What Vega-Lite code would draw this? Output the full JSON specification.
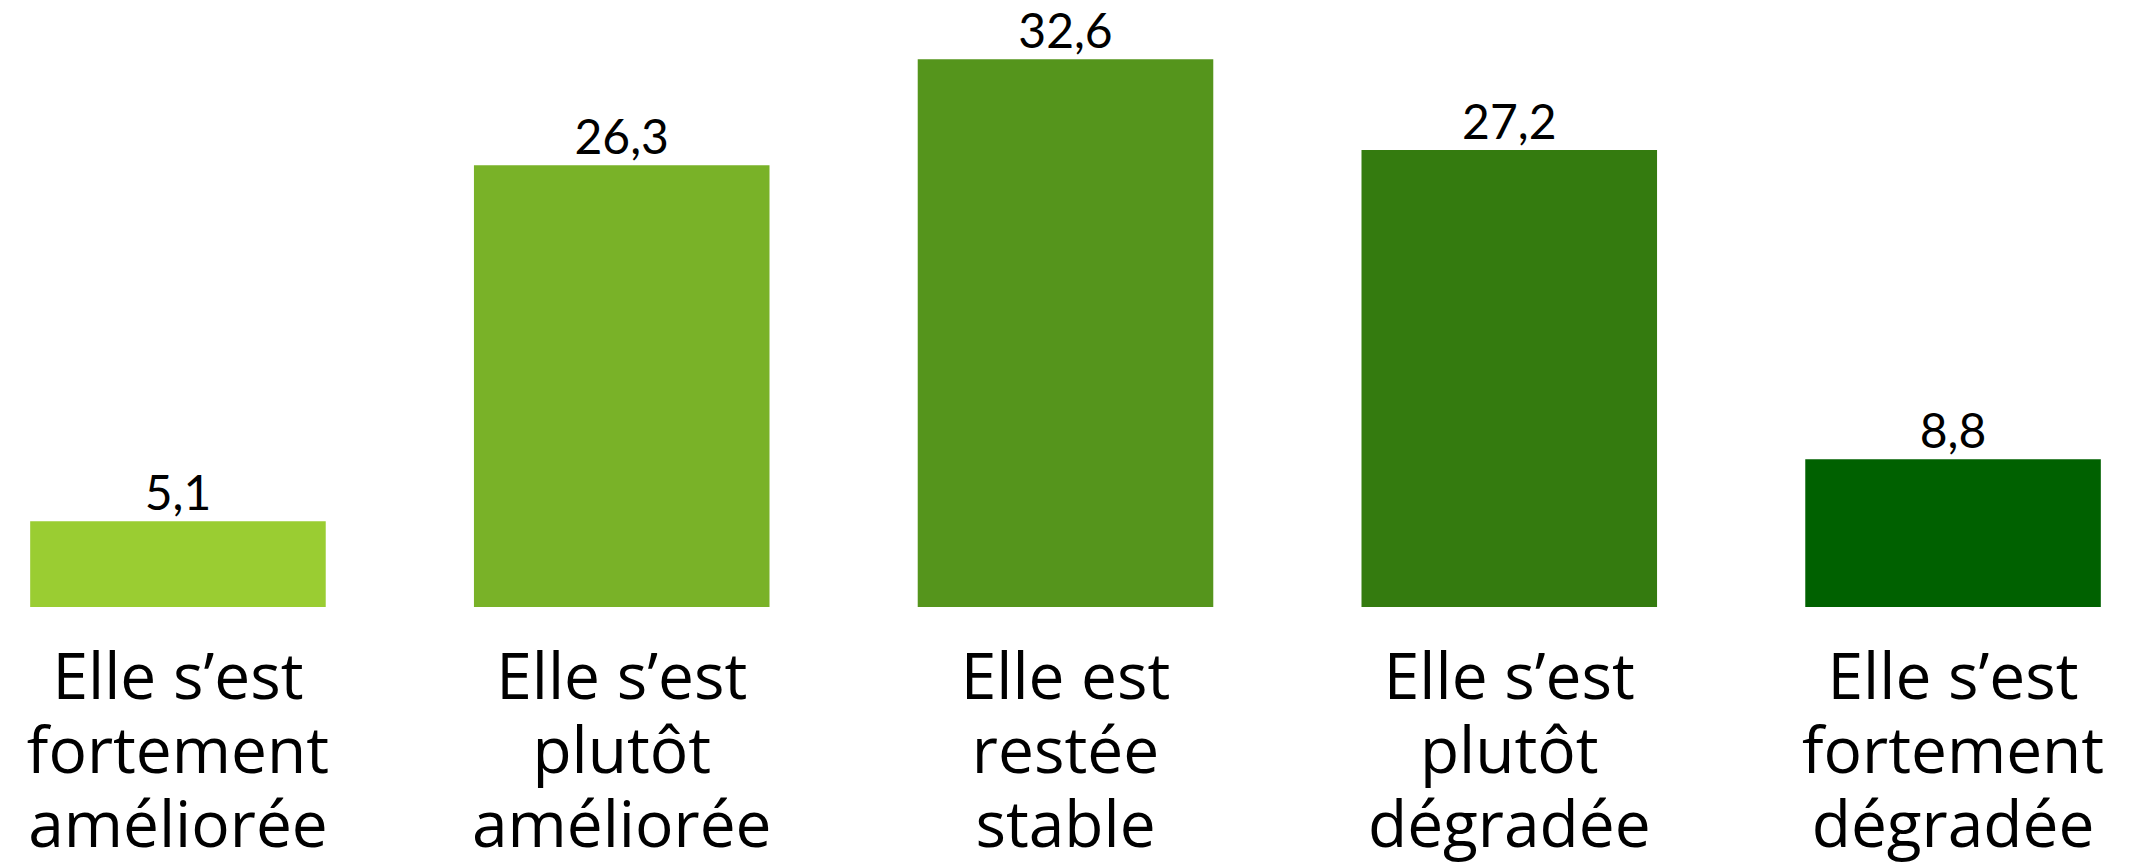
{
  "$schema": "https://vega.github.io/schema/vega-lite/v6.json",
  "autosize": {"type": "none"},
  "padding": {"left": 0, "top": 0, "right": 0, "bottom": 260},
  "width": 2131,
  "height": 607,
  "background": "white",
  "config": {
    "view": {"stroke": null},
    "locale": {"number": {"decimal": ",", "thousands": " ", "grouping": [3], "currency": ["", " €"]}}
  },
  "data": {
    "values": [
      {"cat": "Elle s’est|fortement|améliorée", "value": 5.1, "color": "#9ACD32"},
      {"cat": "Elle s’est|plutôt|améliorée", "value": 26.3, "color": "#79B228"},
      {"cat": "Elle est|restée|stable", "value": 32.6, "color": "#55951C"},
      {"cat": "Elle s’est|plutôt|dégradée", "value": 27.2, "color": "#347B0F"},
      {"cat": "Elle s’est|fortement|dégradée", "value": 8.8, "color": "#006100"}
    ]
  },
  "encoding": {
    "x": {
      "field": "cat", "type": "nominal", "sort": null,
      "scale": {"paddingInner": 0.334, "paddingOuter": 0.068},
      "axis": {
        "title": null, "labelAngle": 0, "ticks": false, "domain": false,
        "labelExpr": "split(datum.label, '|')",
        "labelFont": "Open Sans", "labelFontSize": 64, "labelLineHeight": 74,
        "labelColor": "black", "labelPadding": 40, "labelLimit": 500
      }
    },
    "y": {
      "field": "value", "type": "quantitative",
      "scale": {"domain": [0, 36.13], "nice": false, "zero": true},
      "axis": null
    }
  },
  "layer": [
    {"mark": {"type": "bar"}, "encoding": {"color": {"field": "color", "type": "nominal", "scale": null}}},
    {"mark": {"type": "text", "baseline": "alphabetic", "dy": -11, "font": "Lato", "fontSize": 48, "color": "black"},
     "encoding": {"text": {"field": "value", "type": "quantitative", "format": ".1f"}}}
  ]
}
